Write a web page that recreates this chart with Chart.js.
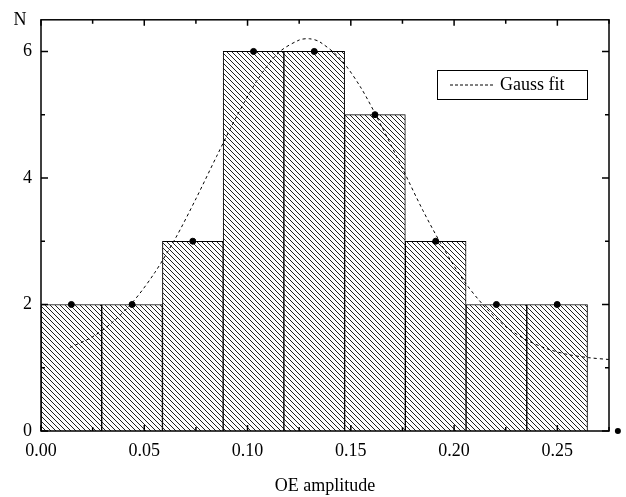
<!DOCTYPE html>
<html>
<head>
<meta charset="utf-8">
<script src="https://cdn.jsdelivr.net/npm/chart.js@4/dist/chart.umd.min.js"></script>
<style>
  html, body { margin: 0; padding: 0; background: #fff; }
  #wrap { width: 626px; height: 497px; }
</style>
</head>
<body>
<div id="wrap"><canvas id="hist"></canvas></div>
<script>
// histogram bins (centres) and counts
const binCenters = [0.0147, 0.0441, 0.0735, 0.1029, 0.1323, 0.1617, 0.1911, 0.2205, 0.2499];
const counts = [2, 2, 3, 6, 6, 5, 3, 2, 2];

// black dots on the bar tops; the empty 10th bin sits outside the frame
const dotX = [0.0147, 0.0441, 0.0735, 0.1029, 0.1323, 0.1617, 0.1911, 0.2205, 0.2499, 0.2793];
const dotY = [2, 2, 3, 6, 6, 5, 3, 2, 2, 0];

// gauss fit curve
const fitX = [0.014, 0.025, 0.035, 0.045, 0.055, 0.065, 0.075, 0.085, 0.095, 0.105, 0.115,
  0.125, 0.13, 0.135, 0.145, 0.155, 0.165, 0.175, 0.185, 0.195, 0.205, 0.215, 0.225,
  0.235, 0.245, 0.255, 0.265, 0.275];
const fitY = [1.32, 1.49, 1.73, 2.06, 2.50, 3.04, 3.67, 4.34, 4.99, 5.56, 5.98,
  6.18, 6.20, 6.15, 5.88, 5.42, 4.81, 4.15, 3.48, 2.88, 2.36, 1.96, 1.65,
  1.44, 1.30, 1.21, 1.16, 1.13];

const xTicks = [0, 0.05, 0.10, 0.15, 0.20, 0.25];
const yTicks = [0, 2, 4, 6];

const X_MAX = 0.275;
const FONT = "Liberation Serif";

// hatch pattern: "\" diagonal, 1px staircase
function hatch() {
  const c = document.createElement("canvas");
  c.width = 5; c.height = 5;
  const g = c.getContext("2d");
  g.fillStyle = "#fff";
  g.fillRect(0, 0, 5, 5);
  g.fillStyle = "#222";
  for (let i = 0; i < 5; i++) g.fillRect(i, i, 1, 1);
  return g.createPattern(c, "repeat");
}

// frame, inside ticks, "N", legend box, and dots past the x range
// (chart.js won't draw points outside the chart area)
const decor = {
  id: "decor",
  afterDraw(chart) {
    const { ctx, chartArea: a, scales } = chart;
    const xs = scales.x, ys = scales.y;
    ctx.save();
    ctx.strokeStyle = "#000";
    ctx.lineWidth = 1.5;
    ctx.strokeRect(a.left, a.top, a.right - a.left, a.bottom - a.top);

    ctx.beginPath();
    for (let v = 0; v <= X_MAX + 0.0001; v += 0.025) {
      const px = xs.getPixelForValue(v);
      const major = Math.round(v / 0.025) % 2 === 0;
      const len = major ? 6 : 4;
      ctx.moveTo(px, a.bottom); ctx.lineTo(px, a.bottom - len);
      ctx.moveTo(px, a.top); ctx.lineTo(px, a.top + len);
    }
    for (let v = 0; v <= 6.5; v += 1) {
      const py = ys.getPixelForValue(v);
      const len = v % 2 === 0 ? 7 : 4;
      ctx.moveTo(a.left, py); ctx.lineTo(a.left + len, py);
      ctx.moveTo(a.right, py); ctx.lineTo(a.right - len, py);
    }
    ctx.stroke();

    ctx.fillStyle = "#000";
    dotX.forEach((x, i) => {
      if (x <= X_MAX) return;
      ctx.beginPath();
      ctx.arc(xs.getPixelForValue(x), ys.getPixelForValue(dotY[i]), 3, 0, Math.PI * 2);
      ctx.fill();
    });

    ctx.font = "18px " + FONT;
    ctx.textAlign = "center";
    ctx.textBaseline = "middle";
    ctx.fillText("N", 20, 20);

    // legend
    const lx = 437, ly = 70, lw = 150, lh = 29;
    ctx.fillStyle = "#fff";
    ctx.fillRect(lx, ly, lw, lh);
    ctx.lineWidth = 1;
    ctx.strokeRect(lx + 0.5, ly + 0.5, lw, lh);
    ctx.setLineDash([3, 2]);
    ctx.beginPath();
    ctx.moveTo(lx + 13, ly + 15);
    ctx.lineTo(lx + 58, ly + 15);
    ctx.stroke();
    ctx.setLineDash([]);
    ctx.fillStyle = "#000";
    ctx.textAlign = "left";
    ctx.fillText("Gauss fit", lx + 63, ly + 15);
    ctx.restore();
  }
};

new Chart(document.getElementById("hist"), {
  type: "bar",
  data: {
    datasets: [
      {
        type: "line",
        label: "Gauss fit",
        data: fitX.map((x, i) => ({ x: x, y: fitY[i] })),
        borderColor: "#000",
        borderWidth: 1,
        borderDash: [3, 3],
        pointRadius: 0,
        tension: 0.3,
        order: 2,
      },
      {
        type: "scatter",
        label: "points",
        data: dotX.map((x, i) => ({ x: x, y: dotY[i] })),
        backgroundColor: "#000",
        borderColor: "#000",
        pointRadius: 3,
        order: 1,
      },
      {
        label: "N",
        data: binCenters.map((x, i) => ({ x: x, y: counts[i] })),
        backgroundColor: hatch(),
        borderColor: "#000",
        borderWidth: 1,
        barPercentage: 1,
        categoryPercentage: 1,
        order: 3,
      },
    ],
  },
  options: {
    responsive: true,
    maintainAspectRatio: false,
    animation: false,
    layout: { padding: { top: 10, right: 17, left: 0, bottom: 0 } },
    plugins: {
      legend: { display: false },
      tooltip: { enabled: false },
    },
    scales: {
      x: {
        type: "linear",
        min: 0,
        max: X_MAX,
        offset: false,
        grid: { display: false, drawTicks: false, offset: false },
        border: { display: false },
        afterBuildTicks: (s) => { s.ticks = xTicks.map((v) => ({ value: v })); },
        afterFit: (s) => { s.height = 66; },
        ticks: {
          padding: 9,
          maxRotation: 0,
          autoSkip: false,
          color: "#000",
          font: { family: FONT, size: 18 },
          callback: (v) => v.toFixed(2),
        },
        title: {
          display: true,
          text: "OE amplitude",
          color: "#000",
          font: { family: FONT, size: 18 },
          padding: { top: 0, bottom: 0 },
        },
      },
      y: {
        min: 0,
        max: 6.5,
        grid: { display: false, drawTicks: false },
        border: { display: false },
        afterBuildTicks: (s) => { s.ticks = yTicks.map((v) => ({ value: v })); },
        afterFit: (s) => { s.width = 41; },
        ticks: {
          padding: 9,
          color: "#000",
          font: { family: FONT, size: 18 },
        },
      },
    },
  },
  plugins: [decor],
});
</script>
</body>
</html>
